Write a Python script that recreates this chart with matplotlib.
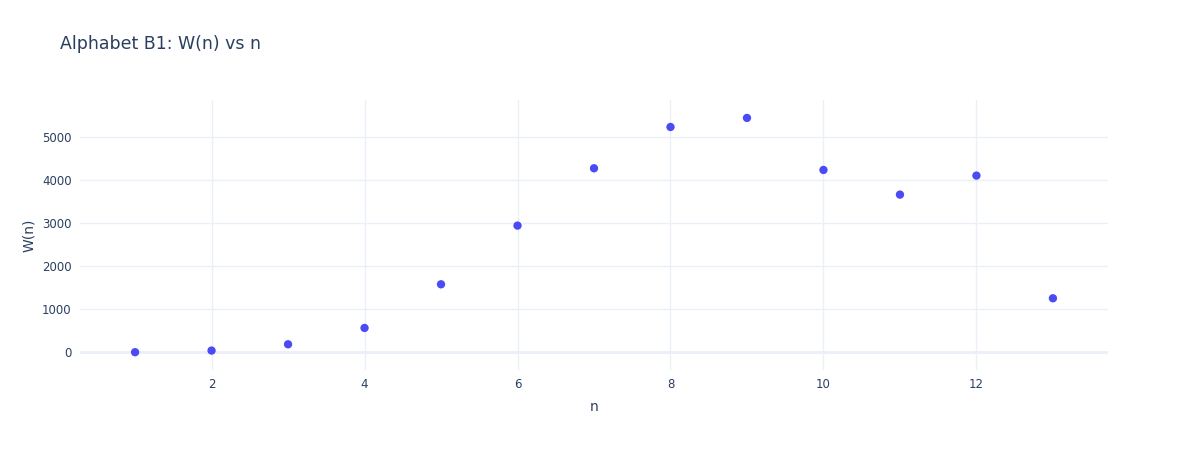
import matplotlib
matplotlib.use("Agg")
import matplotlib.pyplot as plt

# values
n_vals = [1, 2, 3, 4, 5, 6, 7, 8, 9, 10, 11, 12, 13]
w_vals = [2, 40, 186, 566, 1581, 2946, 4279, 5240, 5450, 4240, 3667, 4109, 1256]
x_ticks = [2, 4, 6, 8, 10, 12]
y_ticks = [0, 1000, 2000, 3000, 4000, 5000]

plt.rcParams['font.family'] = ['DejaVu Sans']
text_col = '#2a3f5f'
grid_col = '#ebf0f8'

fig = plt.figure(figsize=(11.88, 4.5), dpi=100)
ax = fig.add_axes([80 / 1188, 80 / 450, 1028 / 1188, 270 / 450])

ax.scatter(n_vals, w_vals, s=36, color='#4b4bf5', edgecolors='none', zorder=3)

ax.set_xlim(0.28, 13.72)
ax.set_ylim(-412, 5867)
ax.set_xticks(x_ticks)
ax.set_yticks(y_ticks)
ax.grid(True, color=grid_col, linewidth=1, zorder=0)
ax.axhline(0, color=grid_col, linewidth=2, zorder=1)
for s in ax.spines.values():
    s.set_visible(False)
ax.tick_params(length=0, labelsize=8.5, labelcolor=text_col, pad=6)

ax.set_xlabel('n', fontsize=10, color=text_col, labelpad=6)
ax.set_ylabel('W(n)', fontsize=10, color=text_col, labelpad=4)
fig.text(60 / 1188, 1 - 44 / 450, 'Alphabet B1: W(n) vs n', fontsize=12.5,
         color=text_col, va='center', ha='left')

fig.savefig('out.png', dpi=100, facecolor='white')
